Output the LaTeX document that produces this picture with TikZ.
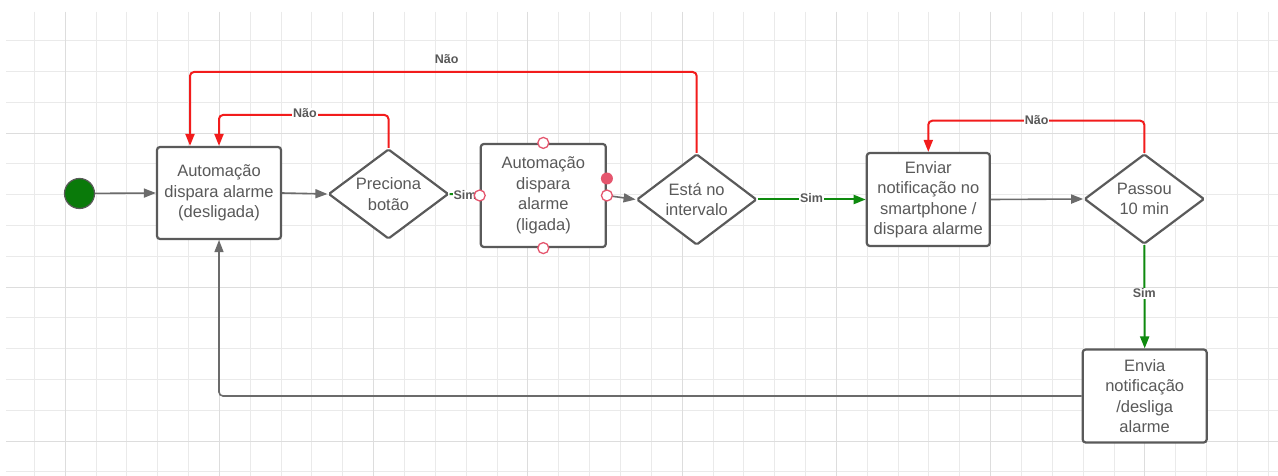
\documentclass[tikz,border=0pt]{standalone}
\usepackage{fontspec}
\setmainfont{Liberation Sans}
\usetikzlibrary{arrows.meta,shapes.geometric,calc}

\definecolor{gridminor}{HTML}{EAEAEA}
\definecolor{gridmajor}{HTML}{DDDDDD}
\definecolor{edge}{HTML}{5A5A5A}
\definecolor{txt}{HTML}{595959}
\definecolor{nored}{HTML}{F21C1C}
\definecolor{yesgreen}{HTML}{0E8A0E}
\definecolor{startgreen}{HTML}{0A7A0A}
\definecolor{port}{HTML}{E5566E}

\pgfdeclarelayer{grid}
\pgfdeclarelayer{bg}
\pgfsetlayers{grid,bg,main}

\tikzset{
  box/.style={draw=edge, line width=2.2pt, rounded corners=3pt, fill=white,
    align=center, text=txt, inner sep=0pt,
    font=\fontsize{16.5}{20.5}\selectfont},
  decision/.style={diamond, draw=edge, line width=2.2pt, fill=white,
    rounded corners=1.5pt, inner sep=0pt,
    minimum width=120pt, minimum height=90pt},
  dtext/.style={align=center, text=txt, inner sep=0pt,
    font=\fontsize{16.5}{20.5}\selectfont},
  tip/.style={-{Triangle[length=12pt,width=9pt]}},
  flow/.style={draw=edge!90, line width=1.6pt, tip},
  nopath/.style={draw=nored, line width=2pt, rounded corners=4pt, tip},
  yespath/.style={draw=yesgreen, line width=2pt, tip},
  lab/.style={font=\bfseries\fontsize{12.5}{14}\selectfont, text=txt,
    fill=white, inner sep=0.8pt},
  portopen/.style={circle, draw=port, line width=1.3pt, fill=white,
    minimum size=11pt, inner sep=0pt},
  portfull/.style={circle, fill=port, minimum size=12pt, inner sep=0pt},
}

\begin{document}
\begin{tikzpicture}[x=1pt,y=-1pt]
\useasboundingbox (0,0) rectangle (1278,476);

% paper and background grid
\begin{pgfonlayer}{grid}
  \fill[white] (0,0) rectangle (1278,476);
  \foreach \k in {0,...,40}
    \draw[gridminor, line width=1pt] ({34.3+30.85*\k},12) -- ({34.3+30.85*\k},476);
  \foreach \k in {0,...,14}
    \draw[gridminor, line width=1pt] (6,{40.7+30.8*\k}) -- (1278,{40.7+30.8*\k});
  \foreach \k in {1,6,...,36}
    \draw[gridmajor, line width=1pt] ({34.3+30.85*\k},12) -- ({34.3+30.85*\k},476);
  \foreach \k in {3,8,13}
    \draw[gridmajor, line width=1pt] (6,{40.7+30.8*\k}) -- (1278,{40.7+30.8*\k});
\end{pgfonlayer}

% states and decisions
\node[circle, minimum size=30pt, inner sep=0pt, fill=startgreen, draw=edge,
      line width=1.2pt] (start) at (79.5,193.5) {};
\node[box, minimum width=124pt, minimum height=92pt] (b1) at (219,193)
  {Automação\\dispara alarme\\(desligada)};
\node[decision] (d1) at (388.5,194) {};
\node[dtext] at (d1) {Preciona\\botão};
\node[box, minimum width=125pt, minimum height=103pt] (b2) at (543.3,195.5)
  {Automação\\dispara\\alarme\\(ligada)};
\node[decision, minimum height=91pt] (d3) at (696.7,199.5) {};
\node[dtext] at (d3) {Está no\\intervalo};
\node[box, minimum width=123pt, minimum height=93pt] (b3) at (928.3,199.5)
  {Enviar\\notificação no\\smartphone /\\dispara alarme};
\node[decision] (d4) at (1144.3,199) {};
\node[dtext] at (d4) {Passou\\10 min};
\node[box, minimum width=124pt, minimum height=93pt] (b4) at (1144.7,396)
  {Envia\\notificação\\/desliga\\alarme};

% waypoints of the loops
\coordinate (loopA) at (190,72);
\coordinate (loopB) at (219,115);
\coordinate (loopC) at (928.3,120.7);
\coordinate (loopD) at (219,396);

% connectors
\begin{pgfonlayer}{bg}
  \draw[flow] (start) -- (b1.west);
  \draw[flow] (b1.east) -- (d1.west);
  \draw[draw=yesgreen, line width=2pt] (d1.east) -- (b2.west);
  \draw[flow] (b2.east) -- (d3.west);
  \draw[yespath] (d3.east) -- (b3.west);
  \draw[flow] (b3.east) -- (d4.west);
  \draw[yespath] (d4.south) -- (b4.north);
  \draw[nopath] (d3.north) |- (loopA) -- (b1.north -| loopA);
  \draw[nopath] (d1.north) |- (loopB) -- (b1.north);
  \draw[nopath] (d4.north) |- (loopC) -- (b3.north);
  \draw[flow, rounded corners=4pt] (b4.west) -- (loopD) -- (b1.south);
\end{pgfonlayer}

% branch labels
\node[lab, fill=none] (l1) at (446.7,59) {Não};
\node[lab] (l2) at (305,113.5) {Não};
\node[lab] (l3) at (465,195) {Sim};
\node[lab] (l4) at (811.5,198.5) {Sim};
\node[lab] (l5) at (1036.7,120) {Não};
\node[lab] (l6) at (1144.3,293.5) {Sim};

% connection ports of the armed state
\node[portopen] (pn) at (b2.north) {};
\node[portopen] (ps) at (b2.south) {};
\node[portopen] (pw) at (b2.west) {};
\node[portopen] (pe) at (b2.east) {};
\node[portfull] (pf) at ($(b2.east)+(0,-17)$) {};
\end{tikzpicture}
\end{document}
